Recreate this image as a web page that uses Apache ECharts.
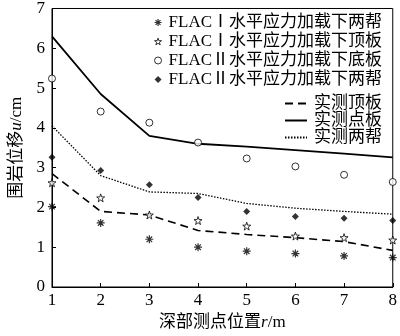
<!DOCTYPE html>
<html><head><meta charset="utf-8">
<script src="https://cdn.jsdelivr.net/npm/echarts@6/dist/echarts.min.js"></script>
<style>html,body{margin:0;padding:0;background:#fff}#c{width:400px;height:336px}</style>
</head><body><div id="c"></div>
<script>
const xs = [1, 2, 3, 4, 5, 6, 7, 8];
const yTicks = [0, 1, 2, 3, 4, 5, 6, 7];
const flac1Sides = [2.02, 1.61, 1.2, 1.0, 0.9, 0.84, 0.78, 0.74];
const flac1Roof = [2.62, 2.24, 1.81, 1.67, 1.53, 1.28, 1.24, 1.18];
const flac2Floor = [5.24, 4.41, 4.13, 3.63, 3.23, 3.03, 2.82, 2.64];
const flac2Sides = [3.26, 2.93, 2.57, 2.25, 1.9, 1.77, 1.73, 1.67];
const measRoof = [2.85, 1.9, 1.81, 1.42, 1.32, 1.24, 1.14, 0.92];
const measFloor = [6.3, 4.85, 3.8, 3.6, 3.53, 3.44, 3.35, 3.26];
const measSides = [4.05, 2.8, 2.39, 2.35, 2.1, 1.98, 1.9, 1.83];
const names = ['FLACⅠ水平应力加载下两帮','FLACⅠ水平应力加载下顶板','FLACⅡ水平应力加载下底板','FLACⅡ水平应力加载下两帮','实测顶板','实测点板','实测两帮'];

const FONT = '"Liberation Serif", "Times New Roman", "Noto Sans CJK SC", serif';
const pts = a => xs.map((x, i) => [x, a[i]]);
const asterisk = 'path://M5 0L5 10M0 5L10 5M1.5 1.5L8.5 8.5M8.5 1.5L1.5 8.5';
const star = 'path://M50 0L61.8 35.1L98.9 35.5L69.1 57.6L80.2 93L50 71.5L19.8 93L30.9 57.6L1.1 35.5L38.2 35.1Z';
const styles = [
  { color: 'rgba(0,0,0,0)', borderColor: '#000', borderWidth: 1.2 },
  { color: '#fff', borderColor: '#000', borderWidth: 1 },
  { color: '#fff', borderColor: '#000', borderWidth: 1 },
  { color: '#000', borderColor: '#000', borderWidth: 0 }
];
const icons = [asterisk, star, 'circle', 'diamond'];

const chart = echarts.init(document.getElementById('c'));
chart.setOption({
  animation: false,
  textStyle: { fontFamily: FONT, color: '#000' },
  grid: { left: 44, right: 5, top: 7, bottom: 46, show: true, borderColor: '#000', borderWidth: 1, backgroundColor: 'transparent' },
  legend: [
    { data: names.slice(0, 4).map((n, i) => ({ name: n, icon: icons[i], itemStyle: styles[i] })), orient: 'vertical', right: 13, top: 9, itemGap: 2, itemWidth: 7, itemHeight: 7,
      textStyle: { fontFamily: FONT, fontSize: 17, color: '#000', padding: [0, 0, 0, 2] } },
    { data: names.slice(4), orient: 'vertical', right: 13, top: 90, itemGap: 0, itemWidth: 22, itemHeight: 10,
      itemStyle: { color: 'rgba(0,0,0,0)', borderColor: 'rgba(0,0,0,0)', borderWidth: 0 },
      textStyle: { fontFamily: FONT, fontSize: 17, color: '#000', padding: [0, 0, 0, 2] } }
  ],
  xAxis: {
    type: 'value', min: 1, max: 8, interval: 1,
    name: '{a|深部测点位置}{i|r}{a|/m}', nameLocation: 'middle', nameGap: 27,
    nameTextStyle: { rich: { a: { fontFamily: FONT, fontSize: 17, color: '#000' }, i: { fontFamily: FONT, fontSize: 17, fontStyle: 'italic', color: '#000' } } },
    axisLine: { lineStyle: { color: '#000', width: 1 } },
    axisTick: { inside: true, length: 4, lineStyle: { color: '#000' } },
    axisLabel: { fontFamily: FONT, fontSize: 17, color: '#000', margin: 5, formatter: v => xs.includes(v) ? String(v) : '' },
    splitLine: { show: false }
  },
  yAxis: {
    type: 'value', min: 0, max: 7, interval: 1,
    name: '{a|围岩位移}{i|u}{a|/cm}', nameLocation: 'middle', nameGap: 27, nameRotate: 90,
    nameTextStyle: { rich: { a: { fontFamily: FONT, fontSize: 17, color: '#000' }, i: { fontFamily: FONT, fontSize: 17, fontStyle: 'italic', color: '#000' } } },
    axisLine: { show: true, lineStyle: { color: '#000', width: 1 } },
    axisTick: { inside: true, length: 4, lineStyle: { color: '#000' } },
    axisLabel: { fontFamily: FONT, fontSize: 17, color: '#000', margin: 7, formatter: v => yTicks.includes(v) ? String(v) : '' },
    splitLine: { show: false }
  },
  series: [
    { name: names[0], type: 'scatter', data: pts(flac1Sides), symbol: asterisk, symbolSize: 8, itemStyle: styles[0], z: 5 },
    { name: names[1], type: 'scatter', data: pts(flac1Roof), symbol: star, symbolSize: 8, itemStyle: styles[1], z: 5 },
    { name: names[2], type: 'scatter', data: pts(flac2Floor), symbol: 'circle', symbolSize: 7, itemStyle: styles[2], z: 5 },
    { name: names[3], type: 'scatter', data: pts(flac2Sides), symbol: 'diamond', symbolSize: 7, itemStyle: styles[3], z: 5 },
    { name: names[4], type: 'line', data: pts(measRoof), symbol: 'none', itemStyle: { color: '#000' },
      lineStyle: { color: '#000', width: 1.6, type: [8, 5] } },
    { name: names[5], type: 'line', data: pts(measFloor), symbol: 'none', itemStyle: { color: '#000' },
      lineStyle: { color: '#000', width: 1.8, type: 'solid' } },
    { name: names[6], type: 'line', data: pts(measSides), symbol: 'none', itemStyle: { color: '#000' },
      lineStyle: { color: '#000', width: 1.3, type: [1.5, 1.5] } }
  ]
});
</script></body></html>
